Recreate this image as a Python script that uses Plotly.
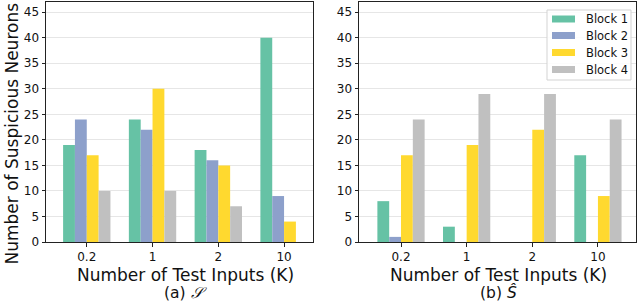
import plotly.graph_objects as go

categories = ["0.2", "1", "2", "10"]
series_names = ["Block 1", "Block 2", "Block 3", "Block 4"]
colors = ["#66c2a5", "#8da0cb", "#ffd92f", "#c0c0c0"]

# (a) S
s_block1 = [19, 24, 18, 40]
s_block2 = [24, 22, 16, 9]
s_block3 = [17, 30, 15, 4]
s_block4 = [10, 10, 7, 0]

# (b) S hat
sh_block1 = [8, 3, 0, 17]
sh_block2 = [1, 0, 0, 0]
sh_block3 = [17, 19, 22, 9]
sh_block4 = [24, 29, 29, 24]

y_ticks = [0, 5, 10, 15, 20, 25, 30, 35, 40, 45]

left_data = [s_block1, s_block2, s_block3, s_block4]
right_data = [sh_block1, sh_block2, sh_block3, sh_block4]

FONT = "DejaVu Sans"
fig = go.Figure()

for i, (name, col) in enumerate(zip(series_names, colors)):
    fig.add_trace(go.Bar(x=categories, y=left_data[i], name=name, marker_color=col,
                         marker_line_width=0, xaxis="x", yaxis="y", showlegend=False,
                         offsetgroup=str(i)))
for i, (name, col) in enumerate(zip(series_names, colors)):
    fig.add_trace(go.Bar(x=categories, y=right_data[i], name=name, marker_color=col,
                         marker_line_width=0, xaxis="x2", yaxis="y2", showlegend=False,
                         offsetgroup=str(i)))

W, H = 640, 304
def px_x(p):
    return p / W
def px_y(p):
    return 1 - p / H

ybot, ytop = 242, 2
axis_common = dict(showline=True, linecolor="#222", linewidth=1, mirror=True,
                   ticks="outside", ticklen=3.5, tickcolor="#222", tickwidth=1,
                   automargin=False,
                   tickfont=dict(family=FONT, size=12, color="#111"))

fig.update_layout(
    width=W, height=H,
    margin=dict(l=0, r=0, t=0, b=0, pad=0),
    paper_bgcolor="white", plot_bgcolor="white",
    barmode="group", bargap=0.28, bargroupgap=0,
    font=dict(family=FONT, color="#111"),
    showlegend=False,
    xaxis=dict(domain=[px_x(46), px_x(313)], anchor="y", type="category",
               range=[-0.62, 3.44], showgrid=False, **axis_common),
    yaxis=dict(domain=[px_y(ybot), px_y(ytop)], anchor="x", range=[0, 47],
               tickvals=y_ticks, showgrid=True, gridcolor="#e6e6e6", gridwidth=1,
               zeroline=False, **axis_common),
    xaxis2=dict(domain=[px_x(359), px_x(636)], anchor="y2", type="category",
                range=[-0.64, 3.58], showgrid=False, **axis_common),
    yaxis2=dict(domain=[px_y(ybot), px_y(ytop)], anchor="x2", range=[0, 47],
                tickvals=y_ticks, showgrid=True, gridcolor="#e6e6e6", gridwidth=1,
                zeroline=False, **axis_common),
)

# Legend (drawn manually in the right panel's upper-right corner)
lx0, lx1, ly0, ly1 = 547, 631, 10, 80
fig.add_shape(type="rect", xref="paper", yref="paper",
              x0=px_x(lx0), x1=px_x(lx1), y0=px_y(ly1), y1=px_y(ly0),
              line=dict(color="#d3d3d3", width=1), fillcolor="rgba(255,255,255,0.85)",
              layer="above")
entry_y = [19, 35.5, 52.5, 69.5]
for name, col, ey in zip(series_names, colors, entry_y):
    fig.add_shape(type="rect", xref="paper", yref="paper",
                  x0=px_x(552), x1=px_x(575), y0=px_y(ey + 3.5), y1=px_y(ey - 3.5),
                  line=dict(width=0), fillcolor=col, layer="above")
    fig.add_annotation(x=px_x(584), y=px_y(ey), xref="paper", yref="paper", text=name,
                       showarrow=False, xanchor="left", yanchor="middle",
                       font=dict(family=FONT, size=11.5, color="#111"))

annos = [
    dict(x=px_x(185.5), y=px_y(274.5), text="Number of Test Inputs (K)", size=17),
    dict(x=px_x(185.5), y=px_y(292.5), text="(a) <i>𝒮</i>", size=15.5),
    dict(x=px_x(498), y=px_y(274.5), text="Number of Test Inputs (K)", size=17),
    dict(x=px_x(498), y=px_y(292.5), text="(b) <i>Ŝ</i>", size=15.5),
]
for a in annos:
    fig.add_annotation(x=a["x"], y=a["y"], xref="paper", yref="paper", text=a["text"],
                       showarrow=False, xanchor="center", yanchor="middle", borderpad=0,
                       font=dict(family=FONT, size=a["size"], color="#111"))
fig.add_annotation(x=px_x(11), y=px_y(133.5), xref="paper", yref="paper",
                   text="Number of Suspicious Neurons", showarrow=False, textangle=-90,
                   xanchor="center", yanchor="middle",
                   font=dict(family=FONT, size=17, color="#111"))

fig.write_html("out.html", config={"displayModeBar": False},
               post_script="document.body.style.margin='0';document.body.style.overflow='hidden';")
